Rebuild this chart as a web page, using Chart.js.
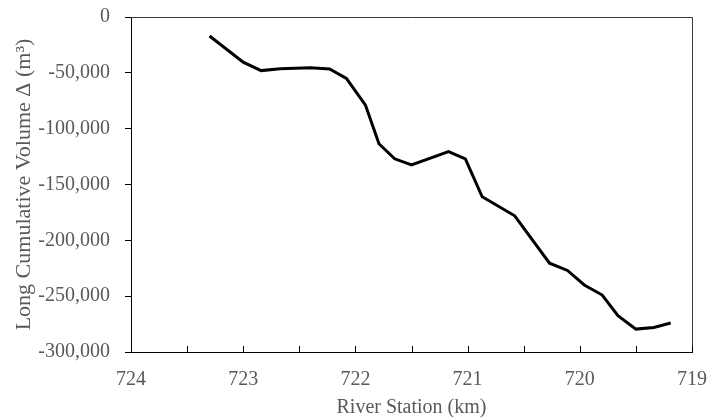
<!DOCTYPE html>
<html>
<head>
<meta charset="utf-8">
<script src="https://cdn.jsdelivr.net/npm/chart.js@4/dist/chart.umd.min.js"></script>
<style>
  html, body { margin: 0; padding: 0; background: #fff; }
  #wrap { width: 723px; height: 420px; position: relative; }
</style>
</head>
<body>
<div id="wrap"><canvas id="c" width="723" height="420"></canvas></div>
<script>
const stations = [723.30, 723.00, 722.84, 722.67, 722.40, 722.23, 722.08, 721.91, 721.79, 721.65, 721.50, 721.17, 721.02, 720.87, 720.58, 720.27, 720.11, 719.96, 719.80, 719.66, 719.50, 719.34, 719.19];
const volumes = [-17000, -40500, -48000, -46300, -45500, -46500, -55000, -79000, -113500, -127000, -132500, -120500, -127000, -161000, -178000, -220500, -227000, -240000, -249000, -267500, -279500, -278000, -274000];
const xTickLabels = ['724', '723', '722', '721', '720', '719'];
const xTitle = 'River Station (km)';
const yTitle = 'Long Cumulative Volume \u0394 (m\u00B3)';

const textColor = '#595959';
const fontFamily = '"Liberation Serif", "Times New Roman", serif';

const frameAndTicks = {
  id: 'frameAndTicks',
  afterDraw(chart) {
    const {ctx, chartArea: a, scales} = chart;
    ctx.save();
    ctx.lineWidth = 1;
    ctx.strokeStyle = '#3a3a3a';
    ctx.beginPath();
    ctx.moveTo(a.left, a.top + 0.5);
    ctx.lineTo(a.right + 0.5, a.top + 0.5);
    ctx.lineTo(a.right + 0.5, a.bottom);
    ctx.stroke();
    ctx.strokeStyle = '#000';
    ctx.beginPath();
    scales.x.ticks.forEach(t => {
      const px = Math.round(scales.x.getPixelForValue(t.value)) + 0.5;
      ctx.moveTo(px, a.bottom);
      ctx.lineTo(px, a.bottom - 6);
    });
    ctx.stroke();
    ctx.restore();
  }
};

new Chart(document.getElementById('c'), {
  type: 'line',
  data: {
    datasets: [{
      data: stations.map((s, i) => ({x: s, y: volumes[i]})),
      borderColor: '#000',
      borderWidth: 3,
      pointRadius: 0,
      tension: 0,
      fill: false
    }]
  },
  options: {
    responsive: false,
    animation: false,
    devicePixelRatio: 1,
    layout: { padding: { top: 17, right: 31, left: 0, bottom: 0 } },
    plugins: { legend: { display: false }, tooltip: { enabled: false } },
    scales: {
      x: {
        type: 'linear',
        reverse: true,
        min: 719,
        max: 724,
        afterFit(s) { s.height = 68; s.paddingLeft = 0; s.paddingRight = 0; },
        grid: { drawOnChartArea: false, drawTicks: false },
        border: { color: '#000', width: 1 },
        ticks: {
          stepSize: 0.5,
          autoSkip: false,
          maxRotation: 0,
          padding: 16,
          color: textColor,
          font: { family: fontFamily, size: 20 },
          callback(v) {
            const lbl = String(v);
            return xTickLabels.includes(lbl) ? lbl : '';
          }
        },
        title: {
          display: true,
          text: xTitle,
          color: textColor,
          font: { family: fontFamily, size: 20 },
          padding: { top: 0, bottom: 0 }
        }
      },
      y: {
        min: -300000,
        max: 0,
        afterFit(s) { s.width = 131; s.paddingTop = 0; s.paddingBottom = 0; },
        grid: { drawOnChartArea: false, drawTicks: true, tickLength: 6, color: '#000' },
        border: { color: '#000', width: 1 },
        ticks: {
          stepSize: 50000,
          padding: 15,
          color: textColor,
          font: { family: fontFamily, size: 20 },
          callback(v) { return v.toLocaleString('en-US'); }
        },
        title: {
          display: true,
          text: yTitle,
          color: textColor,
          font: { family: fontFamily, size: 22 },
          padding: { top: 11, bottom: 0 }
        }
      }
    }
  },
  plugins: [frameAndTicks]
});
</script>
</body>
</html>
